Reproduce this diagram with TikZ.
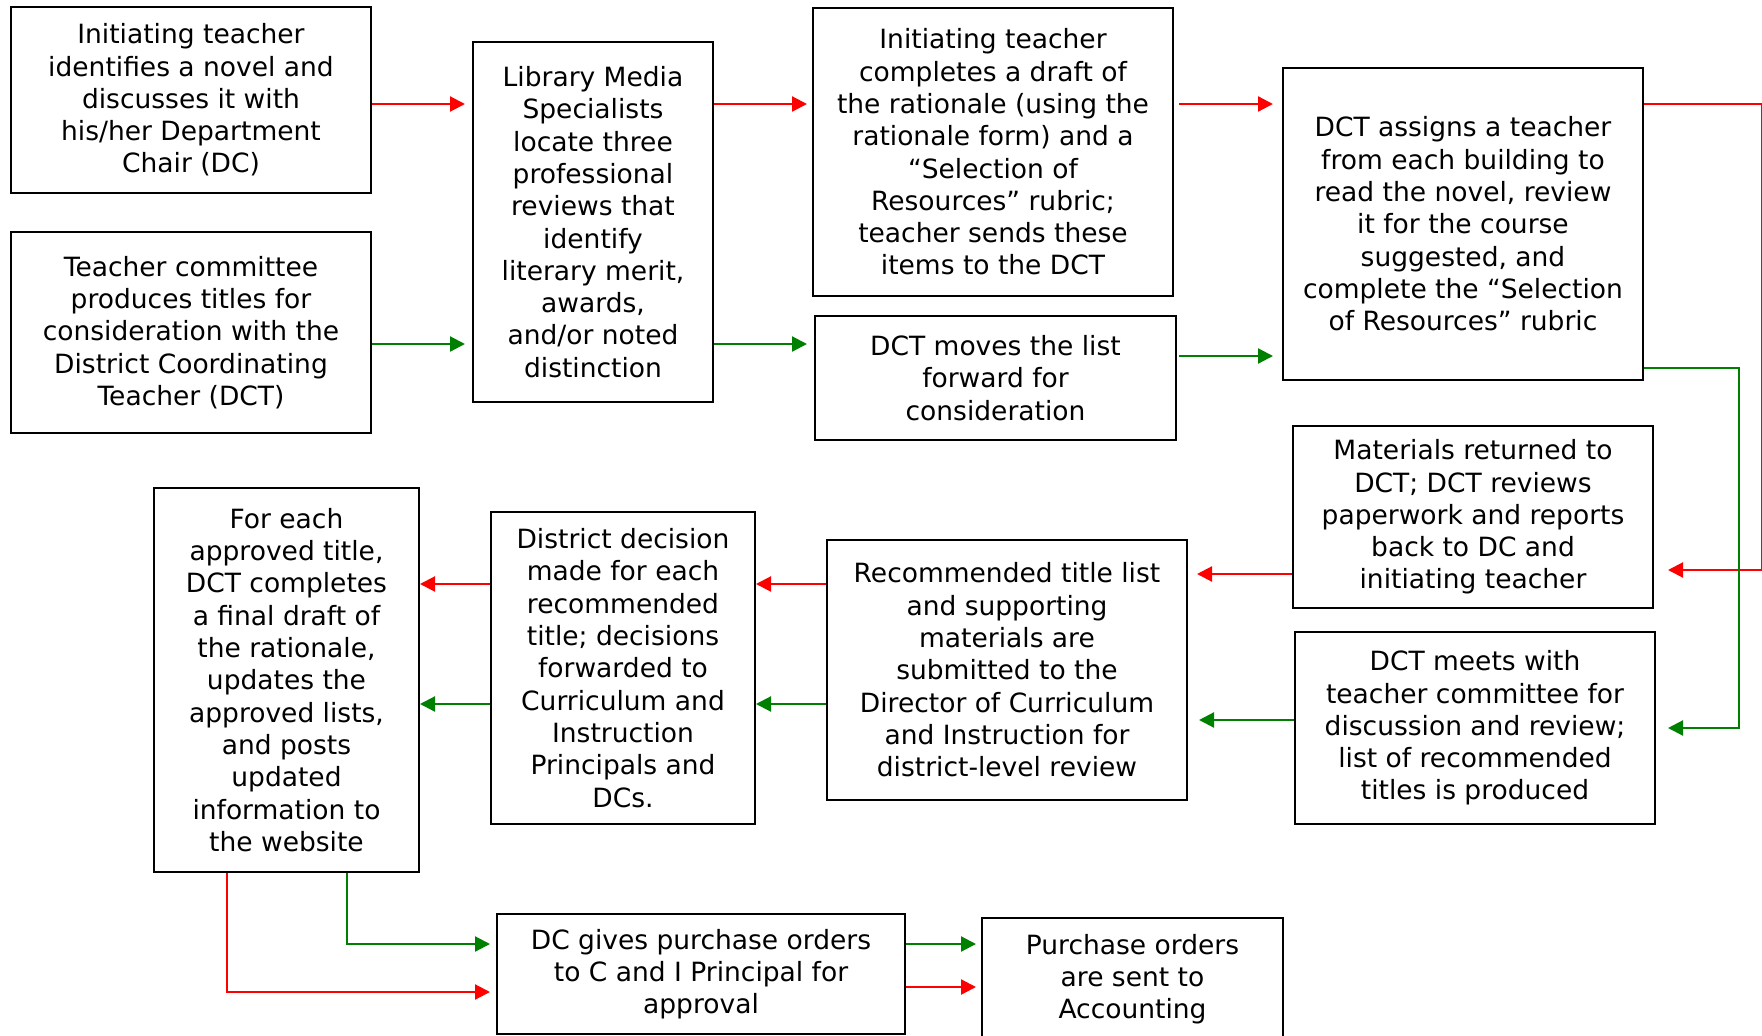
\documentclass[tikz,border=0pt]{standalone}
\usepackage{fontspec}
\setmainfont{DejaVu Sans}
\usetikzlibrary{arrows.meta}
\definecolor{fgreen}{RGB}{0,128,0}
\definecolor{fred}{RGB}{255,0,0}
\tikzset{
  box/.style={draw=black, line width=2pt, align=center, inner sep=0pt,
    font=\fontsize{26.5}{32.3}\selectfont},
  conn/.style={line width=2.2pt, -{Triangle[length=15pt,width=15pt]}},
  rline/.style={conn, draw=fred},
  gline/.style={conn, draw=fgreen},
}
\begin{document}
\begin{tikzpicture}[x=1pt,y=-1pt]
\clip (0,0) rectangle (1762,1036);
\fill[white] (0,0) rectangle (1762,1036);

\node[box, minimum width=360, minimum height=186] (A) at (191,100)
  {Initiating teacher\\identifies a novel and\\discusses it with\\his/her Department\\Chair (DC)};
\node[box, minimum width=360, minimum height=201] (B) at (191,332.5)
  {Teacher committee\\produces titles for\\consideration with the\\District Coordinating\\Teacher (DCT)};
\node[box, minimum width=240, minimum height=360] (C) at (593,222)
  {Library Media\\Specialists\\locate three\\professional\\reviews that\\identify\\literary merit,\\awards,\\and/or noted\\distinction};
\node[box, minimum width=360, minimum height=288] (D) at (993,152)
  {Initiating teacher\\completes a draft of\\the rationale (using the\\rationale form) and a\\“Selection of\\Resources” rubric;\\teacher sends these\\items to the DCT};
\node[box, minimum width=361, minimum height=124] (E) at (995.5,378)
  {DCT moves the list\\forward for\\consideration};
\node[box, minimum width=360, minimum height=312] (F) at (1463,224)
  {DCT assigns a teacher\\from each building to\\read the novel, review\\it for the course\\suggested, and\\complete the “Selection\\of Resources” rubric};
\node[box, minimum width=360, minimum height=182] (G) at (1473,517)
  {Materials returned to\\DCT; DCT reviews\\paperwork and reports\\back to DC and\\initiating teacher};
\node[box, minimum width=360, minimum height=192] (H) at (1475,728)
  {DCT meets with\\teacher committee for\\discussion and review;\\list of recommended\\titles is produced};
\node[box, minimum width=360, minimum height=260] (I) at (1007,670)
  {Recommended title list\\and supporting\\materials are\\submitted to the\\Director of Curriculum\\and Instruction for\\district-level review};
\node[box, minimum width=264, minimum height=312] (J) at (623,668)
  {District decision\\made for each\\recommended\\title; decisions\\forwarded to\\Curriculum and\\Instruction\\Principals and\\DCs.};
\node[box, minimum width=265, minimum height=384] (K) at (286.5,680)
  {For each\\approved title,\\DCT completes\\a final draft of\\the rationale,\\updates the\\approved lists,\\and posts\\updated\\information to\\the website};
\node[box, minimum width=408, minimum height=120] (L) at (701,974)
  {DC gives purchase orders\\to C and I Principal for\\approval};
\node[box, minimum width=301, minimum height=122] (M) at (1132.5,979)
  {Purchase orders\\are sent to\\Accounting};

% top row
\draw[rline, shorten >=7pt] (A.east |- 0,104) -- (C.west |- 0,104);
\draw[gline, shorten >=7pt] (B.east |- 0,344) -- (C.west |- 0,344);
\draw[rline, shorten >=5pt] (C.east |- 0,104) -- (D.west |- 0,104);
\draw[gline, shorten >=7pt] (C.east |- 0,344) -- (E.west |- 0,344);
\draw[rline, shorten <=5pt, shorten >=9pt] (D.east |- 0,104) -- (F.west |- 0,104);
\draw[gline, shorten <=2pt, shorten >=9pt] (E.east |- 0,356) -- (F.west |- 0,356);

% right side loops
\coordinate (rtop) at (1762.3,104);
\coordinate (rbot) at (1762.3,570);
\draw[rline, shorten >=14pt] (F.east |- rtop) -- (rtop) -- (rbot) -- (G.east |- rbot);
\coordinate (gtop) at (1739,368);
\coordinate (gbot) at (1739,728);
\draw[gline, shorten >=12pt] (F.east |- gtop) -- (gtop) -- (gbot) -- (H.east |- gbot);

% middle row, right to left
\draw[rline, shorten >=9pt] (G.west |- 0,574) -- (I.east |- 0,574);
\draw[gline, shorten >=11pt] (H.west |- 0,720) -- (I.east |- 0,720);
\draw[rline] (I.west |- 0,584) -- (J.east |- 0,584);
\draw[gline] (I.west |- 0,704) -- (J.east |- 0,704);
\draw[rline] (J.west |- 0,584) -- (K.east |- 0,584);
\draw[gline] (J.west |- 0,704) -- (K.east |- 0,704);

% bottom
\coordinate (kg) at (347,944);
\coordinate (kr) at (227,992);
\draw[gline, shorten >=6pt] (K.south -| kg) -- (kg) -- (L.west |- kg);
\draw[rline, shorten >=6pt] (K.south -| kr) -- (kr) -- (L.west |- kr);
\draw[gline, shorten >=5pt] (L.east |- 0,944) -- (M.west |- 0,944);
\draw[rline, shorten >=5pt] (L.east |- 0,987) -- (M.west |- 0,987);
\end{tikzpicture}
\end{document}
